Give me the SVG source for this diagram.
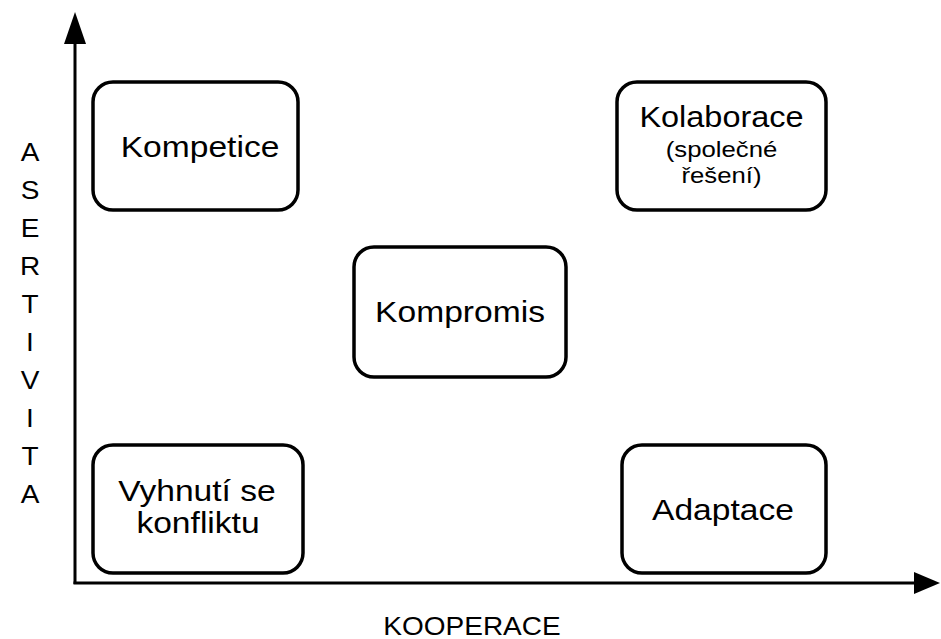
<svg xmlns="http://www.w3.org/2000/svg" width="941" height="639" viewBox="0 0 941 639">
  <style>
    .box { fill: #ffffff; stroke: #000000; stroke-width: 3.5; }
    .axis { stroke: #000000; stroke-width: 3; fill: none; }
    .head { fill: #000000; stroke: none; }
    .lbl { font-family: "Liberation Sans", Arial, sans-serif; fill: #000000; text-anchor: middle; }
    .big { font-size: 30px; }
    .small { font-size: 23px; }
    .axislbl { font-size: 25px; }
  </style>
  <rect width="941" height="639" fill="#ffffff"/>

  <!-- axes -->
  <g id="connectors">
    <line class="axis" x1="75" y1="584" x2="75" y2="40"/>
    <polygon class="head" points="75,12 64,44 86,44"/>
    <line class="axis" x1="73.5" y1="583" x2="918" y2="583"/>
    <polygon class="head" points="940,583 914,572 914,594"/>
  </g>

  <!-- axis labels -->
  <g id="label-asertivita" class="lbl axislbl">
    <text transform="translate(30,161) scale(1.12,1)">A</text>
    <text transform="translate(30,199) scale(1.12,1)">S</text>
    <text transform="translate(30,237) scale(1.12,1)">E</text>
    <text transform="translate(30,275) scale(1.12,1)">R</text>
    <text transform="translate(30,313) scale(1.12,1)">T</text>
    <text transform="translate(30,351) scale(1.12,1)">I</text>
    <text transform="translate(30,389) scale(1.12,1)">V</text>
    <text transform="translate(30,427) scale(1.12,1)">I</text>
    <text transform="translate(30,465) scale(1.12,1)">T</text>
    <text transform="translate(30,503) scale(1.12,1)">A</text>
  </g>
  <g id="label-kooperace" class="lbl axislbl">
    <text transform="translate(472,635) scale(1.12,1)">KOOPERACE</text>
  </g>

  <!-- nodes -->
  <g id="kompetice">
    <rect class="box" x="93" y="82" width="205" height="128" rx="20" ry="20"/>
    <text class="lbl big" transform="translate(200,157) scale(1.12,1)">Kompetice</text>
  </g>

  <g id="kolaborace">
    <rect class="box" x="617" y="82" width="209" height="128" rx="20" ry="20"/>
    <text class="lbl big" transform="translate(721.5,127) scale(1.12,1)" style="font-size:29px">Kolaborace</text>
    <text class="lbl small" transform="translate(721.5,157) scale(1.12,1)">(společné</text>
    <text class="lbl small" transform="translate(721.5,183) scale(1.12,1)">řešení)</text>
  </g>

  <g id="kompromis">
    <rect class="box" x="354" y="247" width="212" height="130" rx="20" ry="20"/>
    <text class="lbl big" transform="translate(460,322) scale(1.12,1)">Kompromis</text>
  </g>

  <g id="vyhnuti">
    <rect class="box" x="93" y="445" width="210" height="128" rx="20" ry="20"/>
    <text class="lbl big" transform="translate(197,501) scale(1.12,1)">Vyhnutí se</text>
    <text class="lbl big" transform="translate(198,533) scale(1.12,1)">konfliktu</text>
  </g>

  <g id="adaptace">
    <rect class="box" x="622" y="445" width="204" height="128" rx="20" ry="20"/>
    <text class="lbl big" transform="translate(723,520) scale(1.12,1)">Adaptace</text>
  </g>
</svg>
